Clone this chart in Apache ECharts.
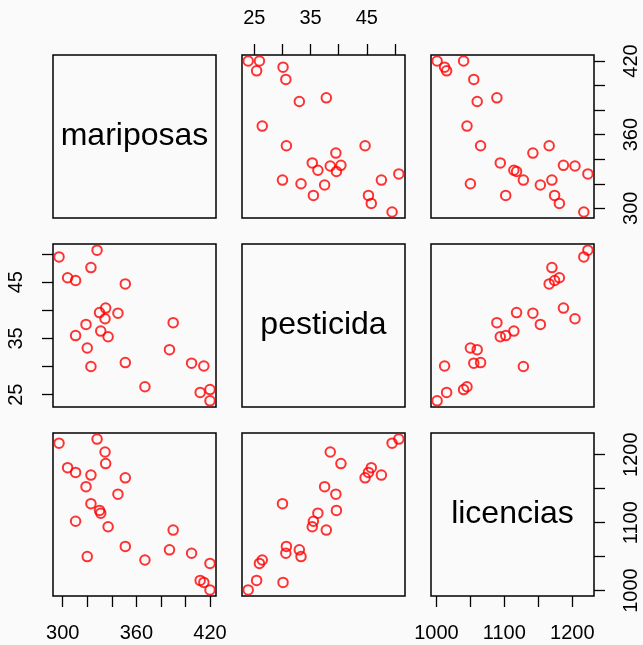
<!DOCTYPE html>
<html>
<head>
<meta charset="utf-8">
<script src="https://cdn.jsdelivr.net/npm/echarts@6/dist/echarts.min.js"></script>
<style>
    html, body { margin: 0; padding: 0; background: #fafafa; }
    #chart { width: 643px; height: 645px; }
</style>
</head>
<body>
<div id="chart"></div>
<script>
const varNames = ['mariposas', 'pesticida', 'licencias'];

const mariposas = [420, 420, 412, 415, 405, 387, 390, 367, 351, 351, 345, 337, 331,
    334.5, 335, 330, 328, 323, 320, 319, 323, 310.5, 310.5, 304, 297];
const pesticida = [23.9, 25.9, 25.4, 30.1, 30.6, 33.0, 37.8, 26.4, 30.7, 44.7, 39.5, 35.3, 36.3,
    38.5, 40.4, 39.6, 50.7, 30.0, 33.3, 37.5, 47.6, 35.5, 45.3, 45.8, 49.5];
const licencias = [1001, 1040, 1015, 1012, 1055, 1060, 1089, 1045, 1065, 1166, 1142, 1094, 1114,
    1204, 1187, 1118, 1223, 1128, 1050, 1153, 1170, 1102, 1174, 1181, 1217];

const mariposasTicks = [300, 320, 340, 360, 380, 400, 420];
const mariposasLabels = [300, 360, 420];
const pesticidaTicks = [25, 30, 35, 40, 45, 50];
const pesticidaLabels = [25, 35, 45];
const licenciasTicks = [1000, 1050, 1100, 1150, 1200];
const licenciasLabels = [1000, 1100, 1200];

const vars = [mariposas, pesticida, licencias];
const ranges = [[292.1, 424.9], [22.8, 51.8], [992, 1232]];
const ticks = [mariposasTicks, pesticidaTicks, licenciasTicks];
const labels = [mariposasLabels, pesticidaLabels, licenciasLabels];

// panel layout
const colLeft = [53, 242, 431];
const rowTop = [55, 244, 433];
const size = 163;
const font = "'Liberation Sans', Arial, sans-serif";

let chart = echarts.init(document.getElementById('chart'));

let grids = [], xAxes = [], yAxes = [], series = [], graphics = [];

function axis(type, v, show, position) {
    return {
        type: 'value',
        gridIndex: grids.length - 1,
        position: position,
        min: ranges[v][0],
        max: ranges[v][1],
        splitLine: { show: false },
        axisLine: { show: false },
        axisTick: {
            show: show,
            length: 11,
            customValues: ticks[v],
            lineStyle: { color: '#000', width: 1.3 }
        },
        axisLabel: {
            show: show,
            customValues: labels[v],
            formatter: val => String(val),
            margin: 27,
            rotate: type === 'y' ? 90 : 0,
            color: '#000',
            fontSize: 20,
            fontFamily: font
        }
    };
}

for (let r = 0; r < 3; r++) {
    for (let c = 0; c < 3; c++) {
        grids.push({
            left: colLeft[c], top: rowTop[r], width: size, height: size,
            show: true, borderColor: '#000', borderWidth: 1.5, backgroundColor: 'transparent'
        });
        let showTop = r === 0 && c % 2 === 1;
        let showBottom = r === 2 && c % 2 === 0;
        let showLeft = c === 0 && r % 2 === 1;
        let showRight = c === 2 && r % 2 === 0;
        xAxes.push(axis('x', c, showTop || showBottom, showTop ? 'top' : 'bottom'));
        yAxes.push(axis('y', r, showLeft || showRight, showRight ? 'right' : 'left'));

        if (r === c) {
            graphics.push({
                type: 'text',
                x: colLeft[c] + size / 2,
                y: rowTop[r] + size / 2,
                style: {
                    text: varNames[r],
                    fill: '#000',
                    fontSize: 32,
                    fontFamily: font,
                    align: 'center',
                    verticalAlign: 'middle'
                }
            });
        } else {
            series.push({
                type: 'scatter',
                xAxisIndex: grids.length - 1,
                yAxisIndex: grids.length - 1,
                symbol: 'circle',
                symbolSize: 9.5,
                itemStyle: { color: 'transparent', borderColor: '#ff0000', borderWidth: 2 },
                data: vars[c].map((x, i) => [x, vars[r][i]])
            });
        }
    }
}

let option = {
    backgroundColor: '#fafafa',
    animation: false,
    grid: grids,
    xAxis: xAxes,
    yAxis: yAxes,
    series: series,
    graphic: graphics
};

option && chart.setOption(option);
</script>
</body>
</html>
